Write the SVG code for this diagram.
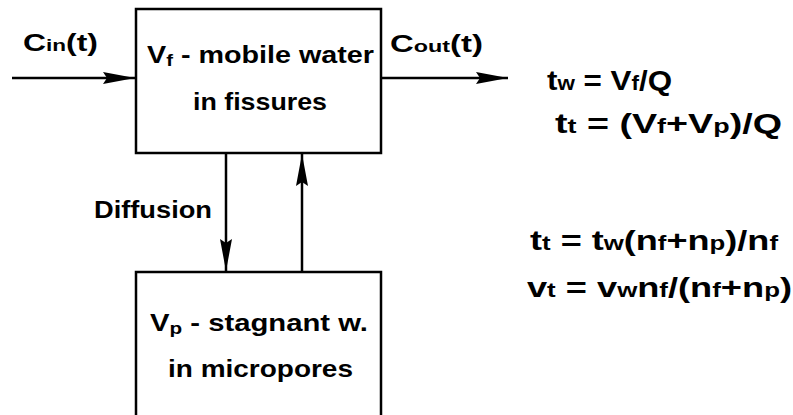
<svg xmlns="http://www.w3.org/2000/svg" width="793" height="415" viewBox="0 0 793 415">
<defs>
<marker id="ah" viewBox="0 0 32 12" markerWidth="32" markerHeight="12" refX="32" refY="6" orient="auto" markerUnits="userSpaceOnUse">
<path d="M0,0 L32,6 L0,12 L4,6 z" fill="#000"/>
</marker>
<style>
.box{fill:#fff;stroke:#000;stroke-width:2.5}
.c{fill:none;stroke:#000;stroke-width:2.5;marker-end:url(#ah)}
text{font-family:"Liberation Sans",Arial,sans-serif;font-weight:bold;fill:#000}
.t{font-size:24px}
.f{font-size:28px}
.s{font-size:17px}
.sf{font-size:20px}
</style>
</defs>
<rect width="793" height="415" fill="#fff"/>
<g id="mobile">
<rect class="box" x="136" y="9" width="245" height="144"/>
<text class="t" x="147" y="63" textLength="227" lengthAdjust="spacingAndGlyphs">V<tspan class="s" dy="3">f</tspan><tspan dy="-3"> - mobile water</tspan></text>
<text class="t" x="193" y="110" textLength="134" lengthAdjust="spacingAndGlyphs">in fissures</text>
</g>
<g id="stagnant">
<rect class="box" x="136" y="272" width="245" height="170"/>
<text class="t" x="150" y="331" textLength="218" lengthAdjust="spacingAndGlyphs">V<tspan class="s" dy="3">p</tspan><tspan dy="-3"> - stagnant w.</tspan></text>
<text class="t" x="168" y="377" textLength="185" lengthAdjust="spacingAndGlyphs">in micropores</text>
</g>
<g id="connectors">
<line class="c" x1="12" y1="78" x2="135" y2="78"/>
<line class="c" x1="381" y1="78" x2="508" y2="78"/>
<line class="c" x1="226" y1="153" x2="226" y2="271"/>
<line class="c" x1="302" y1="272" x2="302" y2="154"/>
</g>
<g id="labels">
<text class="t" x="23" y="51" textLength="75" lengthAdjust="spacingAndGlyphs">C<tspan class="s">in</tspan>(t)</text>
<text class="t" x="390" y="52" textLength="93" lengthAdjust="spacingAndGlyphs">C<tspan class="s">out</tspan>(t)</text>
<text class="t" x="94" y="218" textLength="118" lengthAdjust="spacingAndGlyphs">Diffusion</text>
</g>
<g id="formulas">
<text class="f" x="547" y="90" textLength="125" lengthAdjust="spacingAndGlyphs">t<tspan class="sf">w</tspan> = V<tspan class="sf">f</tspan>/Q</text>
<text class="f" x="555" y="133" textLength="227" lengthAdjust="spacingAndGlyphs">t<tspan class="sf">t</tspan> = (V<tspan class="sf">f</tspan>+V<tspan class="sf">p</tspan>)/Q</text>
<text class="f" x="530" y="250" textLength="248" lengthAdjust="spacingAndGlyphs">t<tspan class="sf">t</tspan> = t<tspan class="sf">w</tspan>(n<tspan class="sf">f</tspan>+n<tspan class="sf">p</tspan>)/n<tspan class="sf">f</tspan></text>
<text class="f" x="527" y="297" textLength="265" lengthAdjust="spacingAndGlyphs">v<tspan class="sf">t</tspan> = v<tspan class="sf">w</tspan>n<tspan class="sf">f</tspan>/(n<tspan class="sf">f</tspan>+n<tspan class="sf">p</tspan>)</text>
</g>
</svg>
